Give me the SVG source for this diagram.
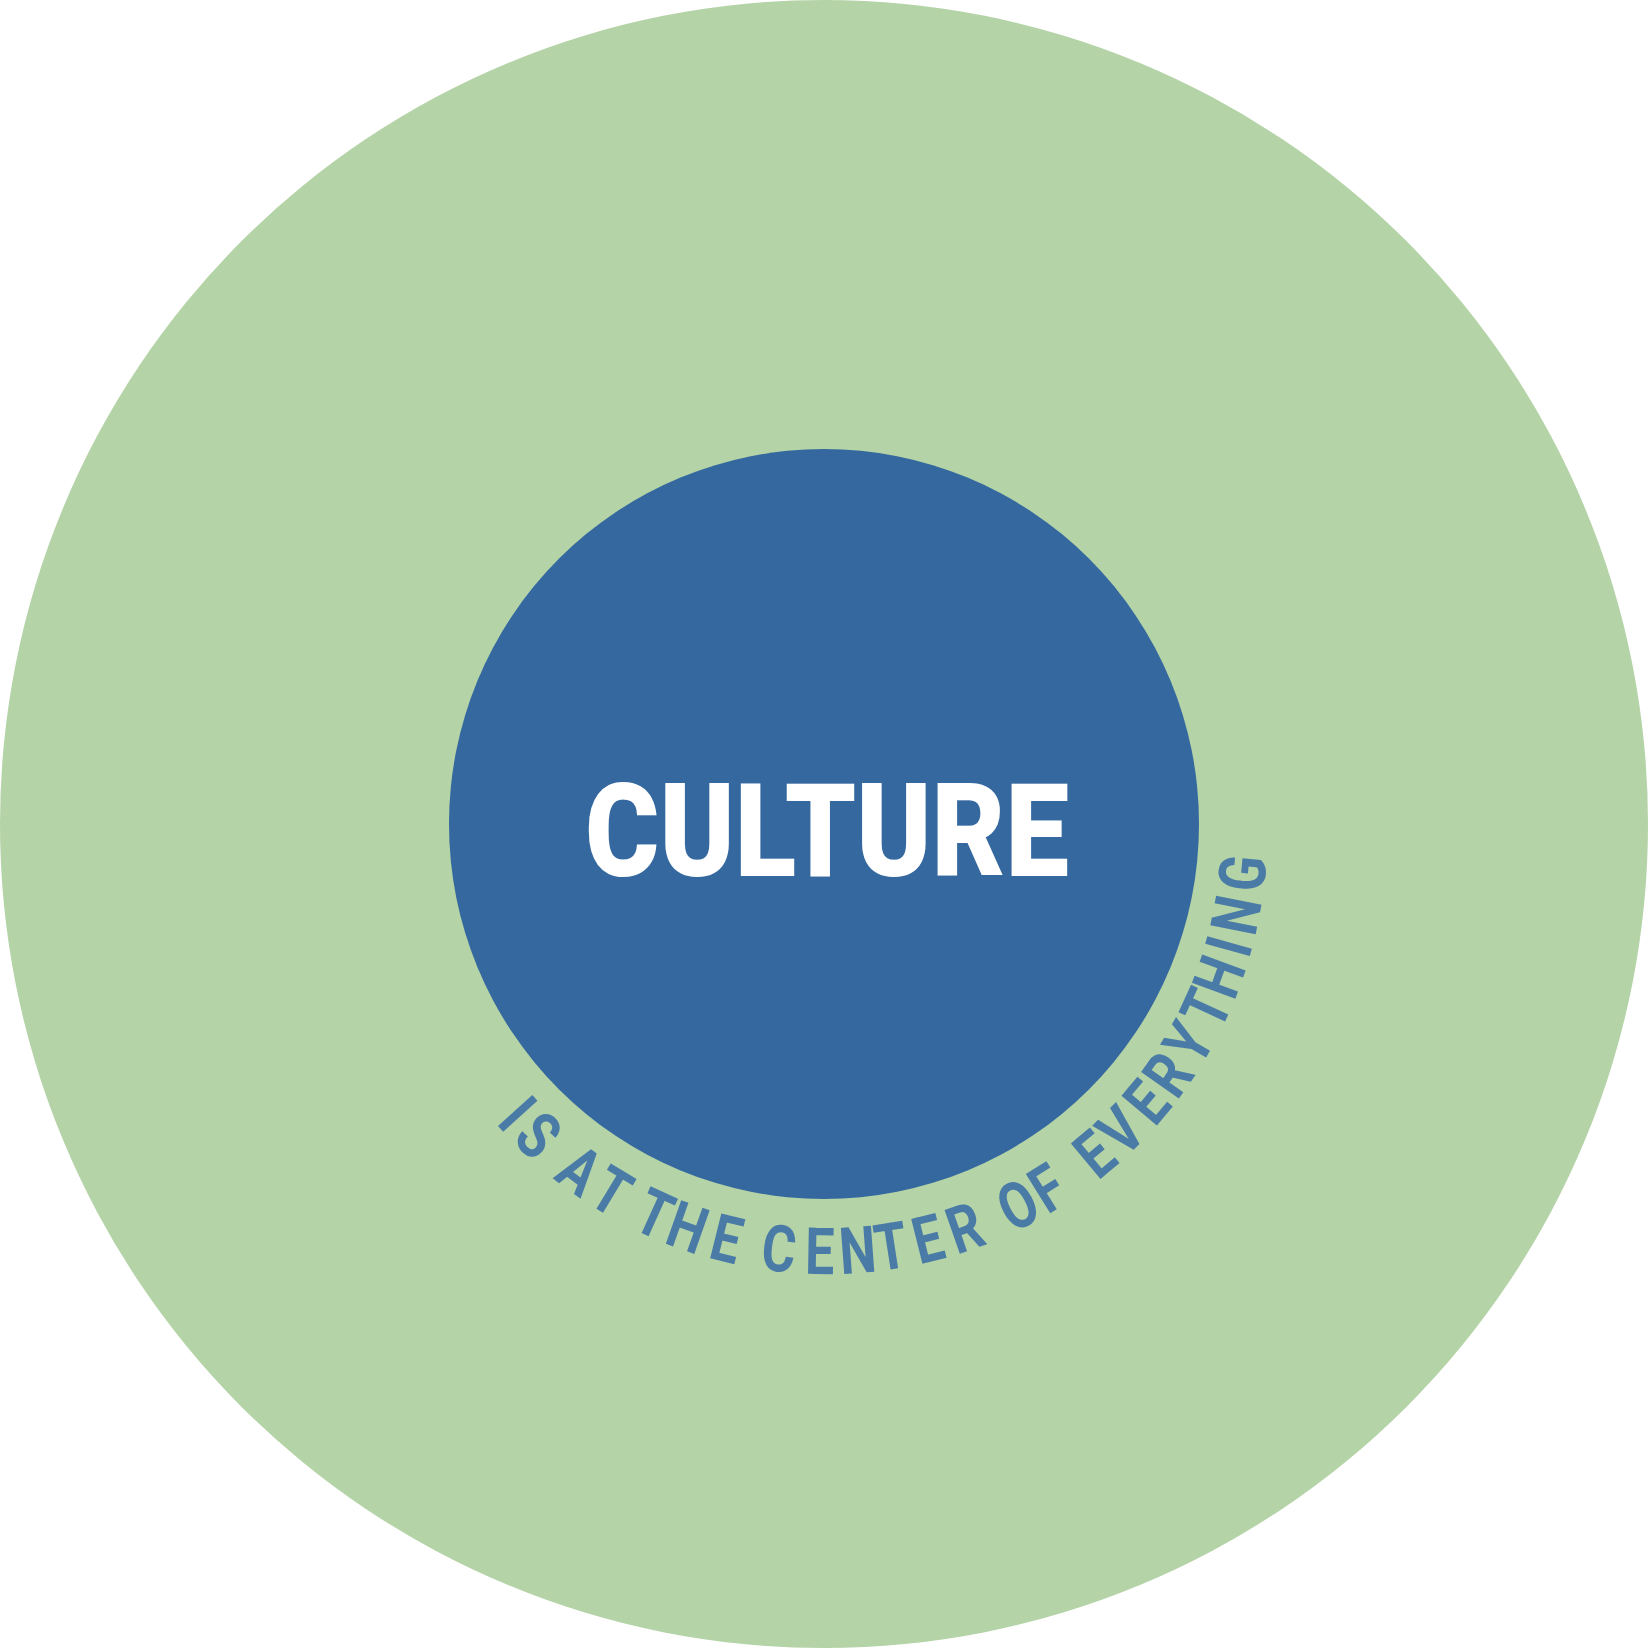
<svg xmlns="http://www.w3.org/2000/svg" width="1649" height="1650" viewBox="0 0 1649 1650">
<style>
.outer{fill:#b4d3a7}
.inner{fill:#35689f}
.title{fill:#ffffff;font-family:Roboto,"Liberation Sans",Arial,sans-serif;font-weight:900;font-size:129px}
.a{fill:#4a7ba7;font-family:Roboto,"Liberation Sans",Arial,sans-serif;font-weight:bold;font-size:65px;text-anchor:middle}
</style>
<rect width="1649" height="1650" fill="#ffffff"/>
<g id="outer-circle"><circle class="outer" cx="824" cy="824" r="824"/></g>
<g id="culture"><circle class="inner" cx="824" cy="824" r="375"/>
<text class="title" x="585" y="876" textLength="484" lengthAdjust="spacingAndGlyphs">CULTURE</text></g>
<g id="tagline">
<text class="a" transform="rotate(47.9 827 834) translate(827 1274) scale(0.8 1)">I</text>
<text class="a" transform="rotate(43.8 827 834) translate(827 1274) scale(0.8 1)">S</text>
<text class="a" transform="rotate(36.3 827 834) translate(827 1274) scale(0.8 1)">A</text>
<text class="a" transform="rotate(31.1 827 834) translate(827 1274) scale(0.8 1)">T</text>
<text class="a" transform="rotate(24.4 827 834) translate(827 1274) scale(0.8 1)">T</text>
<text class="a" transform="rotate(19.5 827 834) translate(827 1274) scale(0.8 1)">H</text>
<text class="a" transform="rotate(13.9 827 834) translate(827 1274) scale(0.8 1)">E</text>
<text class="a" transform="rotate(6.6 827 834) translate(827 1274) scale(0.8 1)">C</text>
<text class="a" transform="rotate(1.0 827 834) translate(827 1274) scale(0.8 1)">E</text>
<text class="a" transform="rotate(-4.2 827 834) translate(827 1274) scale(0.8 1)">N</text>
<text class="a" transform="rotate(-8.8 827 834) translate(827 1274) scale(0.8 1)">T</text>
<text class="a" transform="rotate(-14.0 827 834) translate(827 1274) scale(0.8 1)">E</text>
<text class="a" transform="rotate(-19.3 827 834) translate(827 1274) scale(0.8 1)">R</text>
<text class="a" transform="rotate(-27.2 827 834) translate(827 1274) scale(0.8 1)">O</text>
<text class="a" transform="rotate(-31.9 827 834) translate(827 1274) scale(0.8 1)">F</text>
<text class="a" transform="rotate(-39.9 827 834) translate(827 1274) scale(0.8 1)">E</text>
<text class="a" transform="rotate(-44.7 827 834) translate(827 1274) scale(0.8 1)">V</text>
<text class="a" transform="rotate(-50.0 827 834) translate(827 1274) scale(0.8 1)">E</text>
<text class="a" transform="rotate(-54.8 827 834) translate(827 1274) scale(0.8 1)">R</text>
<text class="a" transform="rotate(-60.0 827 834) translate(827 1274) scale(0.8 1)">Y</text>
<text class="a" transform="rotate(-65.3 827 834) translate(827 1274) scale(0.8 1)">T</text>
<text class="a" transform="rotate(-70.0 827 834) translate(827 1274) scale(0.8 1)">H</text>
<text class="a" transform="rotate(-74.4 827 834) translate(827 1274) scale(0.8 1)">I</text>
<text class="a" transform="rotate(-78.8 827 834) translate(827 1274) scale(0.8 1)">N</text>
<text class="a" transform="rotate(-84.6 827 834) translate(827 1274) scale(0.8 1)">G</text>
</g>
</svg>
